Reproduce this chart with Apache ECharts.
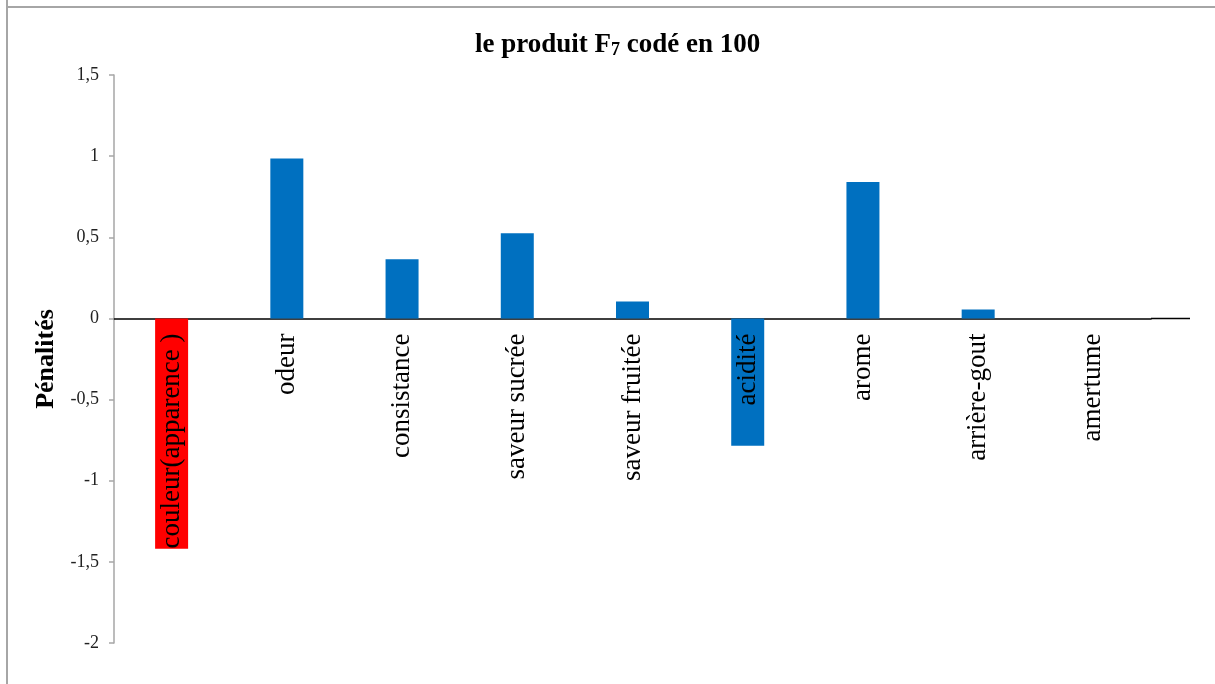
<!DOCTYPE html>
<html>
<head>
<meta charset="utf-8">
<script src="https://cdn.jsdelivr.net/npm/echarts@6/dist/echarts.min.js"></script>
<style>
  html, body { margin: 0; padding: 0; background: #fff; }
  #chart { width: 1215px; height: 684px; }
</style>
</head>
<body>
<div id="chart"></div>
<script>
// categories and penalty values
var categories = ['couleur(apparence )', 'odeur', 'consistance', 'saveur sucrée', 'saveur fruitée',
                  'acidité', 'arome', 'arrière-gout', 'amertume'];
var penalties = [-1.42, 0.985, 0.365, 0.525, 0.105, -0.785, 0.84, 0.055, 0];
var yTicks = [-2, -1.5, -1, -0.5, 0, 0.5, 1, 1.5];

var gridLeft = 114, gridRight = 64, gridTop = 75, gridBottom = 41, lineEnd = 1190;
var serif = 'Liberation Serif';
var H = 684;

var chart = echarts.init(document.getElementById('chart'));

var barData = penalties.map(function (v, i) {
  var d = { value: v };
  if (categories[i] === 'couleur(apparence )') d.itemStyle = { color: '#ff0000' };
  return d;
});

// where the zero value falls, so the label grid can end on it
var yMin = yTicks[0], yMax = yTicks[yTicks.length - 1];
var zeroFromBottom = gridBottom + (0 - yMin) / (yMax - yMin) * (H - gridTop - gridBottom);

var option = {
  backgroundColor: '#fff',
  animation: false,
  textStyle: { fontFamily: serif },
  title: {
    text: '{a|le produit F}{s|7}{a| codé en 100}',
    left: 470,
    top: 27,
    textStyle: {
      fontFamily: serif,
      fontSize: 27,
      fontWeight: 'bold',
      rich: {
        a: { fontFamily: serif, fontSize: 27, fontWeight: 'bold', color: '#000' },
        s: { fontFamily: serif, fontSize: 18, fontWeight: 'bold', color: '#000', verticalAlign: 'bottom' }
      }
    }
  },
  grid: [
    { left: gridLeft, right: gridRight, top: gridTop, bottom: gridBottom, outerBoundsMode: 'none' },
    // label-only grid whose bottom edge sits on the zero line
    { left: gridLeft, right: gridRight, top: gridTop, bottom: zeroFromBottom, outerBoundsMode: 'none' }
  ],
  xAxis: [
    {
      type: 'category',
      gridIndex: 0,
      data: categories,
      axisLine: { onZero: true, lineStyle: { color: '#000', width: 1.5 } },
      axisTick: { show: false },
      axisLabel: { show: false }
    },
    {
      type: 'category',
      gridIndex: 1,
      data: categories,
      z: 10,
      axisLine: { show: false },
      axisTick: { show: false },
      axisLabel: {
        interval: 0,
        rotate: 90,
        margin: 15,
        fontFamily: serif,
        fontSize: 27,
        color: '#000'
      }
    }
  ],
  yAxis: [
    {
      type: 'value',
      gridIndex: 0,
      min: yMin,
      max: yMax,
      interval: 0.5,
      name: 'Pénalités',
      nameLocation: 'middle',
      nameGap: 39,
      nameTextStyle: { fontFamily: serif, fontSize: 26, fontWeight: 'bold', color: '#000' },
      axisLine: { show: true, lineStyle: { color: '#a6a6a6', width: 1.5 } },
      axisTick: { show: true, length: 5, lineStyle: { color: '#a6a6a6', width: 1.5 } },
      splitLine: { show: false },
      axisLabel: {
        margin: 15,
        fontFamily: serif,
        fontSize: 18,
        color: '#222',
        formatter: function (v) { return String(v).replace('.', ','); }
      }
    },
    {
      type: 'value',
      gridIndex: 1,
      show: false
    }
  ],
  series: [
    {
      type: 'bar',
      xAxisIndex: 0,
      yAxisIndex: 0,
      data: barData,
      barWidth: 33,
      itemStyle: { color: '#0070c0' }
    }
  ]
};

chart.setOption(option);

// frame on top and left, plus the zero line running past the last category
var zeroY = chart.convertToPixel({ yAxisIndex: 0 }, 0);
chart.setOption({
  graphic: [
    { type: 'line', shape: { x1: 7, y1: 0, x2: 7, y2: H }, style: { stroke: '#a6a6a6', lineWidth: 2 } },
    { type: 'line', shape: { x1: 6, y1: 7, x2: 1215, y2: 7 }, style: { stroke: '#a6a6a6', lineWidth: 2 } },
    { type: 'line', shape: { x1: 1215 - gridRight, y1: zeroY, x2: lineEnd, y2: zeroY }, style: { stroke: '#000', lineWidth: 1.5 } }
  ]
});
</script>
</body>
</html>
